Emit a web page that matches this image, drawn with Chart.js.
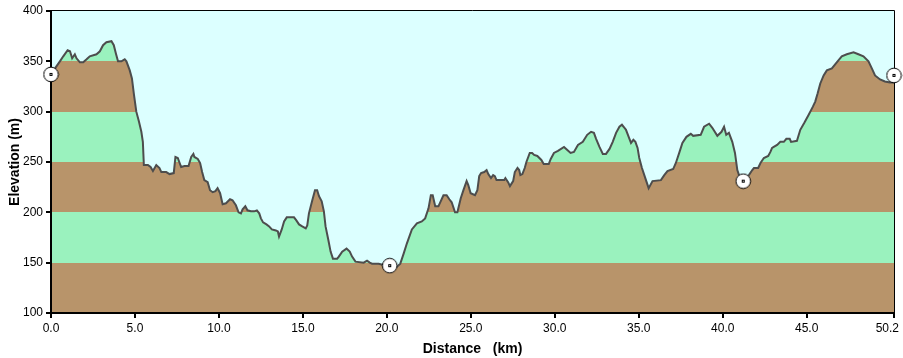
<!DOCTYPE html>
<html><head><meta charset="utf-8">
<script src="https://cdn.jsdelivr.net/npm/chart.js@4.4.0/dist/chart.umd.min.js"></script>
<style>html,body{margin:0;padding:0;background:#fff;overflow:hidden}#wrap{width:903px;height:358px}</style>
</head><body><div id="wrap"><canvas id="c" width="903" height="358"></canvas></div>
<script>
// ---- data ----
const distanceKm = [0.00,0.24,0.53,0.73,0.99,1.13,1.26,1.42,1.52,1.72,1.92,2.12,2.31,2.71,2.91,3.10,3.30,3.60,3.74,3.86,3.99,4.19,4.39,4.49,4.69,4.82,4.94,5.08,5.24,5.38,5.47,5.53,5.77,5.93,6.07,6.27,6.46,6.57,6.86,7.06,7.31,7.41,7.55,7.75,7.95,8.19,8.35,8.48,8.54,8.74,8.88,9.00,9.13,9.33,9.47,9.63,9.79,9.92,10.07,10.22,10.42,10.66,10.81,11.01,11.17,11.31,11.41,11.57,11.70,11.90,12.10,12.26,12.40,12.50,12.63,12.83,12.99,13.15,13.39,13.51,13.58,13.74,13.88,14.04,14.47,14.61,14.77,14.96,15.17,15.26,15.36,15.56,15.72,15.85,15.96,16.12,16.25,16.35,16.51,16.65,16.79,17.04,17.14,17.34,17.60,17.79,17.93,18.13,18.62,18.82,18.98,19.12,19.51,20.00,20.35,20.60,20.80,21.00,21.19,21.49,21.79,22.08,22.28,22.48,22.62,22.73,22.88,23.07,23.37,23.56,23.72,23.86,24.06,24.20,24.40,24.56,24.75,24.85,24.99,25.25,25.39,25.50,25.61,25.80,25.94,26.04,26.20,26.33,26.43,26.53,26.99,27.06,27.22,27.33,27.52,27.62,27.78,27.88,27.95,28.07,28.21,28.31,28.51,28.65,28.77,28.96,29.20,29.34,29.64,29.76,29.95,30.19,30.55,30.68,30.94,31.14,31.38,31.67,31.93,32.16,32.33,32.46,32.66,32.86,33.05,33.26,33.45,33.65,33.85,34.00,34.15,34.24,34.40,34.54,34.68,34.80,34.93,35.03,35.19,35.39,35.59,35.82,36.32,36.52,36.71,37.05,37.21,37.41,37.60,37.84,38.10,38.24,38.69,38.89,39.19,39.38,39.68,39.93,40.08,40.21,40.37,40.57,40.73,40.87,40.97,41.22,41.56,41.76,41.86,42.11,42.25,42.45,42.71,42.84,42.94,43.04,43.24,43.43,43.64,43.79,43.99,44.07,44.42,44.62,44.86,45.12,45.37,45.51,45.65,45.81,46.01,46.20,46.50,46.84,47.09,47.39,47.79,48.08,48.38,48.68,48.88,49.07,49.37,49.66,49.96,50.20];
const elevationM = [336,343,350,355,361,360,353,357,353,349,349,352,355,357,360,366,369,370,366,358,350,350,352,350,341,333,317,300,290,280,270,247,247,245,241,247,244,240,240,238,239,255,254,245,246,246,255,258,255,253,249,240,232,230,222,220,221,224,219,208,209,213,212,207,200,199,203,206,202,201,201,202,199,194,190,188,186,183,182,181,176,183,191,195,195,192,188,186,184,187,199,212,222,222,216,211,201,186,173,161,154,154,156,161,164,161,156,151,150,152,150,149,149,147,146,146,149,159,169,183,189,191,194,204,217,217,206,206,217,217,213,210,200,200,214,222,231,227,219,217,222,236,239,240,242,238,234,237,236,232,232,234,230,226,231,240,244,242,237,238,244,250,259,259,257,256,252,248,248,253,259,261,265,263,259,260,267,270,277,280,279,273,265,258,258,263,270,279,285,287,284,282,275,269,272,270,264,254,244,234,224,231,232,237,241,243,249,259,269,275,278,276,277,285,288,284,276,280,285,277,279,270,259,242,237,231,237,242,244,244,249,254,256,260,264,265,267,270,270,273,273,270,271,282,289,297,305,310,318,328,336,341,343,350,355,357,359,357,355,350,343,336,332,330,329,329];
const markerKm = [0, 20.17, 41.22, 50.2];
const markerM = [337, 147, 231, 336];
const xTickValues = [0, 5, 10, 15, 20, 25, 30, 35, 40, 45, 50.2];
const yTickValues = [100, 150, 200, 250, 300, 350, 400];
const bandEdges = [100, 150, 200, 250, 300, 350, 400];
const bandColors = ['#B8946A', '#9AF2BE', '#B8946A', '#9AF2BE', '#B8946A', '#9AF2BE'];

const profilePts = distanceKm.map((d, i) => ({x: d, y: elevationM[i]}));
const markerPts = markerKm.map((d, i) => ({x: d, y: markerM[i]}));

// marker glyph
const mk = document.createElement('canvas');
mk.width = 17; mk.height = 17;
(function(){
  const c = mk.getContext('2d');
  c.beginPath(); c.arc(8.5, 8.5, 7.3, 0, Math.PI*2);
  c.fillStyle = '#fff'; c.fill();
  c.lineWidth = 1; c.strokeStyle = '#000'; c.stroke();
  c.fillStyle = '#000'; c.fillRect(7, 7, 3, 3);
  c.fillStyle = '#fff'; c.fillRect(8, 8, 1, 1);
})();

function bandFill(ctx) {
  const chart = ctx.chart;
  const ca = chart.chartArea;
  const ys = chart.scales.y;
  if (!ca || !ys) return 'transparent';
  const y0 = ys.getPixelForValue(bandEdges[0]);
  const y1 = ys.getPixelForValue(bandEdges[bandEdges.length - 1]);
  const g = chart.ctx.createLinearGradient(0, y0, 0, y1);
  const span = bandEdges[bandEdges.length - 1] - bandEdges[0];
  for (let i = 0; i < bandColors.length; i++) {
    g.addColorStop((bandEdges[i] - bandEdges[0]) / span, bandColors[i]);
    g.addColorStop((bandEdges[i + 1] - bandEdges[0]) / span, bandColors[i]);
  }
  return g;
}

const bgPlugin = {
  id: 'bg',
  beforeDatasetsDraw(chart) {
    const {ctx, chartArea: a} = chart;
    ctx.save();
    ctx.fillStyle = '#DCFFFF';
    ctx.fillRect(a.left, a.top, a.right - a.left, a.bottom - a.top);
    ctx.restore();
  },
  afterDatasetDraw(chart, args) {
    if (args.meta.order !== 1) return;
    const {ctx, chartArea: a} = chart;
    ctx.save();
    ctx.strokeStyle = '#000';
    ctx.lineWidth = 1;
    ctx.beginPath();
    ctx.moveTo(a.left, a.top - 0.5); ctx.lineTo(a.right + 0.5, a.top - 0.5);
    ctx.moveTo(a.right + 0.5, a.top - 0.5); ctx.lineTo(a.right + 0.5, a.bottom);
    ctx.stroke();
    ctx.lineWidth = 2;
    ctx.beginPath();
    ctx.moveTo(a.left, a.top - 1); ctx.lineTo(a.left, a.bottom + 1);
    ctx.moveTo(a.left - 1, a.bottom); ctx.lineTo(a.right + 1, a.bottom);
    ctx.stroke();
    ctx.restore();
  }
};

const tickFont = {family: '"Liberation Sans", Arial, sans-serif', size: 12};
const titleFont = {family: '"Liberation Sans", Arial, sans-serif', size: 14, weight: 'bold'};

new Chart(document.getElementById('c'), {
  type: 'line',
  data: {
    datasets: [
      {
        label: 'Waypoints',
        data: markerPts,
        showLine: false,
        pointStyle: mk,
        pointRadius: 8,
        clip: false,
        order: 0
      },
      {
        label: 'Elevation',
        data: profilePts,
        borderColor: '#4D4D4D',
        borderWidth: 2,
        pointRadius: 0,
        tension: 0,
        fill: 'start',
        backgroundColor: bandFill,
        order: 1
      }
    ]
  },
  options: {
    responsive: false,
    animation: false,
    devicePixelRatio: 1,
    events: [],
    layout: {padding: {top: 11, right: 5, left: 0, bottom: 0}},
    plugins: {legend: {display: false}, tooltip: {enabled: false}},
    scales: {
      x: {
        type: 'linear',
        min: 0, max: 50.2,
        afterBuildTicks(s) { s.ticks = xTickValues.map(v => ({value: v})); },
        afterFit(s) { s.height = 45; s.paddingLeft = 0; s.paddingRight = 0; },
        grid: {drawOnChartArea: false, drawTicks: true, tickLength: 5, color: '#000', lineWidth: 2},
        border: {display: false},
        ticks: {
          color: '#000', font: tickFont, padding: 3, maxRotation: 0, autoSkip: false,
          callback: (v) => v === 50.2 ? '50.2\u00a0\u00a0\u00a0\u00a0' : Number(v).toFixed(1)
        },
        title: {display: true, text: 'Distance   (km)', color: '#000', font: titleFont, padding: {top: 5, bottom: 0}}
      },
      y: {
        min: 100, max: 400,
        afterBuildTicks(s) { s.ticks = yTickValues.map(v => ({value: v})); },
        afterFit(s) { s.width = 51; },
        grid: {drawOnChartArea: false, drawTicks: true, tickLength: 5, color: '#000', lineWidth: 2},
        border: {display: false},
        ticks: {color: '#000', font: tickFont, padding: 3, callback: (v) => String(v)},
        title: {display: true, text: 'Elevation (m)', color: '#000', font: titleFont, padding: {top: 7, bottom: 0}}
      }
    }
  },
  plugins: [bgPlugin]
});
</script>
</body></html>
